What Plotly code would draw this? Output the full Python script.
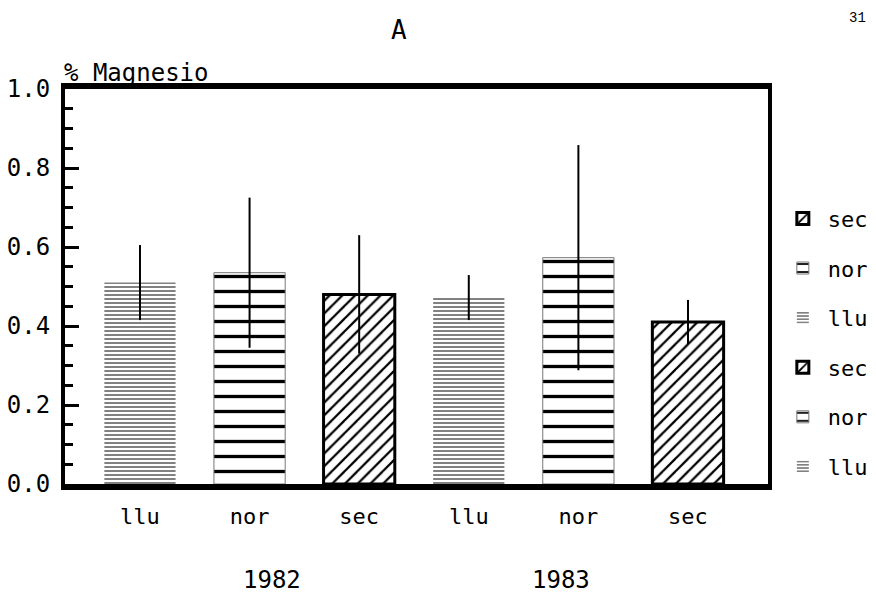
import plotly.graph_objects as go

# ---- data ----
categories = ["llu", "nor", "sec", "llu", "nor", "sec"]
years = ["1982", "1983"]
values = [0.51, 0.535, 0.48, 0.472, 0.573, 0.41]
errors = [0.095, 0.19, 0.15, 0.057, 0.285, 0.056]
y_ticks = [0.0, 0.2, 0.4, 0.6, 0.8, 1.0]

FONT = "DejaVu Sans Mono"

styles = {
    "llu": dict(pattern=dict(shape="-", size=4, solidity=0.35, fgcolor="#4a4a4a", bgcolor="white", fgopacity=1),
                line=dict(width=0, color="white")),
    "nor": dict(pattern=dict(shape="-", size=15, solidity=0.22, fgcolor="black", bgcolor="white", fgopacity=1),
                line=dict(width=1, color="#777777")),
    "sec": dict(pattern=dict(shape="/", size=9, solidity=0.25, fgcolor="black", bgcolor="white", fgopacity=1),
                line=dict(width=3, color="black")),
}

n = len(categories)
fig = go.Figure()
for i, (cat, v, e) in enumerate(zip(categories, values, errors)):
    st = styles[cat]
    fig.add_trace(go.Bar(
        x=[i], y=[v], width=0.65, name=cat,
        legendgroup=f"g{i}", legendrank=n - i,
        marker=dict(color="white", pattern=st["pattern"], line=st["line"]),
        error_y=dict(type="data", array=[e], symmetric=True, width=0,
                     thickness=2, color="black"),
    ))

fig.update_layout(
    width=876, height=602,
    margin=dict(l=65, r=108, t=89, b=118, autoexpand=False),
    paper_bgcolor="white", plot_bgcolor="white",
    barmode="overlay",
    font=dict(family=FONT, color="black", size=22),
    legend=dict(traceorder="grouped", x=1.014, xanchor="left", y=0.725, yanchor="top",
                font=dict(family=FONT, size=22), tracegroupgap=18,
                bgcolor="rgba(0,0,0,0)", itemwidth=40),
    xaxis=dict(range=[-0.684, 5.73], tickmode="array", tickvals=list(range(n)),
               ticktext=categories, ticks="", showgrid=False, zeroline=False,
               showline=True, linewidth=6, linecolor="black", mirror=True,
               tickfont=dict(family=FONT, size=22), ticklabelstandoff=8, automargin=False),
    yaxis=dict(range=[0, 1], tickmode="array", tickvals=y_ticks,
               ticktext=[f"{t:.1f}" for t in y_ticks], ticks="inside", ticklen=14,
               tickwidth=2.5, tickcolor="black",
               minor=dict(dtick=0.05, ticks="inside", ticklen=8, tickwidth=2.5, tickcolor="black"),
               showgrid=False, zeroline=False, showline=True, linewidth=4,
               linecolor="black", mirror=True, tickfont=dict(family=FONT, size=24),
               ticklabelstandoff=6, automargin=False),
    annotations=[
        dict(text="% Magnesio", x=-0.004, y=1.04, xref="paper", yref="paper",
             xanchor="left", yanchor="middle", showarrow=False, font=dict(family=FONT, size=24)),
        dict(text="A", x=0.475, y=1.149, xref="paper", yref="paper",
             xanchor="center", yanchor="middle", showarrow=False, font=dict(family=FONT, size=26)),
        dict(text="31", x=1.127, y=1.18, xref="paper", yref="paper",
             xanchor="center", yanchor="middle", showarrow=False,
             font=dict(family="Liberation Mono", size=14)),
        dict(text=years[0], x=0.294, y=-0.243, xref="paper", yref="paper",
             xanchor="center", yanchor="middle", showarrow=False, font=dict(family=FONT, size=24)),
        dict(text=years[1], x=0.706, y=-0.243, xref="paper", yref="paper",
             xanchor="center", yanchor="middle", showarrow=False, font=dict(family=FONT, size=24)),
    ],
)

fig.write_html("out.html", config={"displayModeBar": False},
               post_script="document.body.style.margin='0';")
